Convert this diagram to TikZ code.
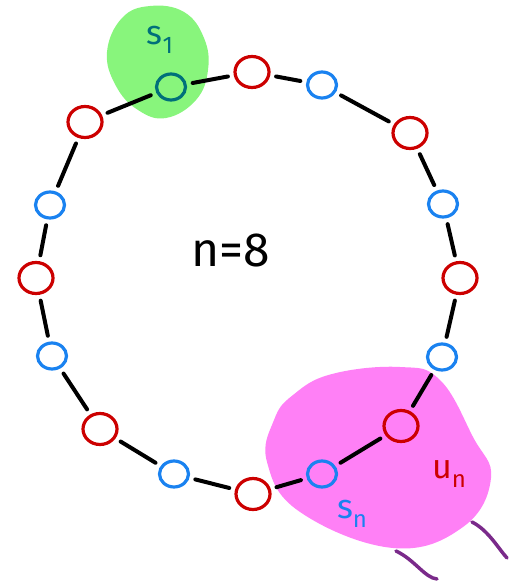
\documentclass[tikz,border=0pt]{standalone}
\usepackage{fontspec}
\setsansfont{Fira Sans}
\usetikzlibrary{shapes.geometric}
\definecolor{rd}{HTML}{CC0000}
\definecolor{bl}{HTML}{1A82F0}
\definecolor{tl}{HTML}{00707A}
\definecolor{gr}{HTML}{88F57C}
\definecolor{pk}{HTML}{FF80F6}
\definecolor{pu}{HTML}{7A2A8A}
\tikzset{
  rnode/.style={ellipse,draw=rd,line width=3.2pt,minimum width=34pt,minimum height=31pt,inner sep=0pt},
  bnode/.style={ellipse,draw=bl,line width=3.2pt,minimum width=29pt,minimum height=26pt,inner sep=0pt},
  tnode/.style={ellipse,draw=tl,line width=3.2pt,minimum width=29pt,minimum height=26pt,inner sep=0pt},
  link/.style={line width=4pt,line cap=round,black,shorten <=6pt,shorten >=6pt},
  lbl/.style={font=\sffamily\fontsize{34}{34}\selectfont,inner sep=0pt},
}
\newcommand{\subs}[1]{\raisebox{-9pt}{\fontsize{24}{24}\selectfont #1}}
\begin{document}
\begin{tikzpicture}[x=1pt,y=-1pt]
\useasboundingbox (0,0) rectangle (511,583);
% blobs
\fill[gr] plot[smooth cycle,tension=0.7] coordinates {(122,18) (150,6) (184,12) (204,38) (208,70) (196,100) (166,118) (138,110) (116,86) (107,52)};
\fill[pk] plot[smooth cycle,tension=0.7] coordinates {(293,395) (332,374) (400,367) (440,380) (473,437) (491,478) (463,527) (393,548) (300,512) (267,462) (274,420)};
% purple strokes
\draw[pu,line width=3.5pt,line cap=round] (396,551) .. controls (415,560) and (425,578) .. (437,579);
\draw[pu,line width=3.5pt,line cap=round] (472,522) .. controls (488,530) and (498,548) .. (507,558);
% nodes
\node[tnode] (n1) at (171,87) {};
\node[rnode] (n2) at (252,72) {};
\node[bnode] (n3) at (322,85) {};
\node[rnode] (n4) at (410,133) {};
\node[bnode] (n5) at (443,204) {};
\node[rnode] (n6) at (460,278) {};
\node[bnode] (n7) at (442,357) {};
\node[rnode] (n8) at (401,426) {};
\node[bnode] (n9) at (322,474) {};
\node[rnode] (n10) at (253,494) {};
\node[bnode] (n11) at (174,474) {};
\node[rnode] (n12) at (100,429) {};
\node[bnode] (n13) at (52,356) {};
\node[rnode] (n14) at (36,278) {};
\node[bnode] (n15) at (50,205) {};
\node[rnode] (n16) at (85,122) {};
% links
\foreach \a/\b in {n1/n2,n2/n3,n3/n4,n4/n5,n5/n6,n6/n7,n7/n8,n8/n9,n9/n10,n10/n11,n11/n12,n12/n13,n13/n14,n14/n15,n15/n16,n16/n1}
  \draw[link] (\a) -- (\b);
% labels
\node[lbl,text=tl] (ls1) at (160,40) {s\subs{1}};
\node[lbl,text=black,font=\sffamily\fontsize{48}{48}\selectfont] (ln) at (231,250) {n=8};
\node[lbl,text=rd] (lun) at (449,474) {u\subs{n}};
\node[lbl,text=bl] (lsn) at (352,514) {s\subs{n}};
\end{tikzpicture}
\end{document}
